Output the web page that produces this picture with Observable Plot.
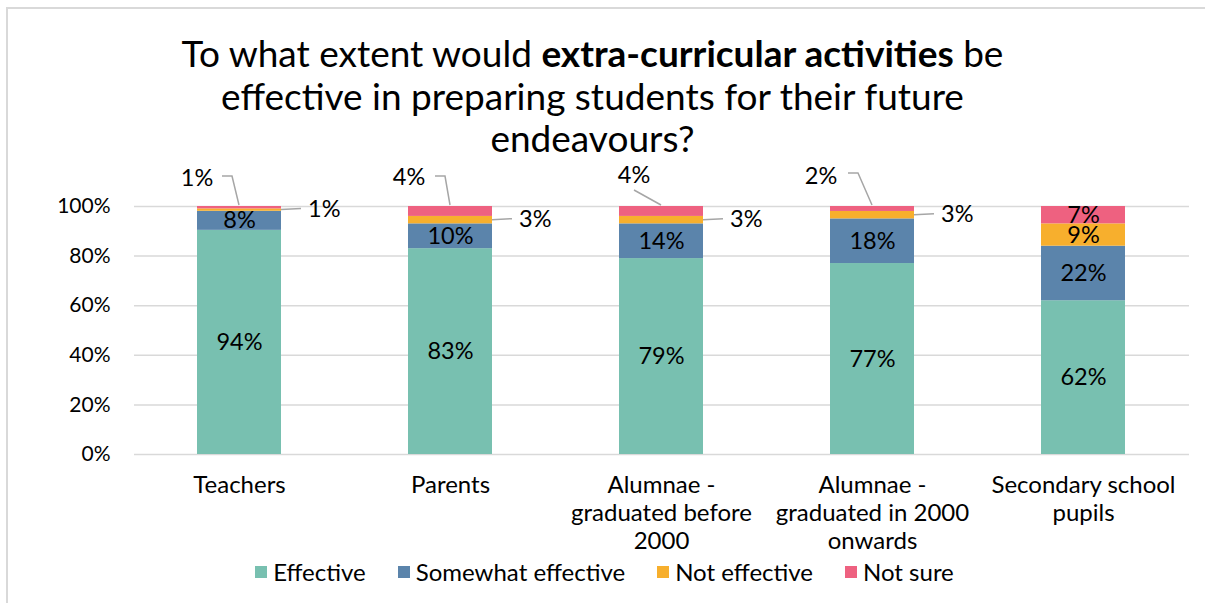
<!DOCTYPE html>
<html>
<head>
<meta charset="utf-8">
<script src="https://cdn.jsdelivr.net/npm/d3@7"></script>
<script src="https://cdn.jsdelivr.net/npm/@observablehq/plot@0.6"></script>
<style>
  html, body { margin: 0; padding: 0; background: #fff; }
  #wrap { position: relative; width: 1205px; height: 603px; overflow: hidden; font-family: Lato, "Open Sans", sans-serif; }
  #border { position: absolute; left: 6px; top: 7px; right: -10px; bottom: -10px; border-left: 2px solid #d9d9d9; border-top: 2px solid #d9d9d9; }
  #chart { position: absolute; left: 0; top: 0; }
  #title { position: absolute; left: 0; top: 32px; width: 1185px; text-align: center; font-size: 37px; line-height: 42.5px; color: #000; }
  #legend { position: absolute; left: 12px; top: 557px; width: 1185px; display: flex; justify-content: center; font-size: 24px; color: #000; }
  .item { display: flex; align-items: center; margin: 0 16px; }
  .sw { width: 12px; height: 12px; margin-right: 6px; }
</style>
</head>
<body>
<div id="wrap">
  <div id="border"></div>
  <div id="chart"></div>
  <div id="title">To what extent would <b>extra-curricular activities</b> be<br>effective in preparing students for their future<br>endeavours?</div>
  <div id="legend"></div>
</div>
<script>
const categories = ["Teachers", "Parents", "Alumnae - graduated before 2000", "Alumnae - graduated in 2000 onwards", "Secondary school pupils"];
const categoryLabels = ["Teachers", "Parents", "Alumnae -\ngraduated before\n2000", "Alumnae -\ngraduated in 2000\nonwards", "Secondary school\npupils"];
const series = ["Effective", "Somewhat effective", "Not effective", "Not sure"];
const effective = [94, 83, 79, 77, 62];
const somewhatEffective = [8, 10, 14, 18, 22];
const notEffective = [1, 3, 3, 3, 9];
const notSure = [1, 4, 4, 2, 7];
const yTicks = [0, 0.2, 0.4, 0.6, 0.8, 1];

const colors = ["#78c0b0", "#5b84ab", "#f7af2d", "#ee6180"];
const seriesValues = [effective, somewhatEffective, notEffective, notSure];

const rows = [];
categories.forEach((c, i) => {
  series.forEach((s, j) => {
    rows.push({category: c, series: s, value: seriesValues[j][i], si: j, ci: i});
  });
});

// callouts (layout only, offsets in pixels relative to anchor)
const leftCallout = [
  {label: [-42, -28], path: [[0, -1], [-7, -30], [-17, -30]]},
  {label: [-41, -29], path: [[0, -1], [-5, -30], [-15, -30]]},
  {label: [-27, -31], path: [[0, -1], [-27, -16]]},
  {label: [-51, -30], path: [[0, -1], [-14, -33], [-24, -33]]}
];

function callouts(index, scales, values, dimensions) {
  const g = d3.create("svg:g");
  const bw = scales.x.bandwidth ? scales.x.bandwidth() : 84;
  for (let i = 0; i < 4; i++) {
    const c = categories[i];
    const total = effective[i] + somewhatEffective[i] + notEffective[i] + notSure[i];
    const cx = scales.x(c) + bw / 2;
    const yTop = scales.y(1);
    const lc = leftCallout[i];
    g.append("path")
      .attr("d", d3.line()(lc.path.map(([dx, dy]) => [cx + dx, yTop + dy])))
      .attr("fill", "none").attr("stroke", "#a6a6a6").attr("stroke-width", 1.5);
    g.append("text")
      .attr("x", cx + lc.label[0]).attr("y", yTop + lc.label[1])
      .attr("text-anchor", "middle").attr("dy", "0.35em")
      .attr("font-size", 23.5).attr("fill", "#000")
      .text(notSure[i] + "%");
    const lo = (effective[i] + somewhatEffective[i]) / total;
    const hi = lo + notEffective[i] / total;
    const ym = scales.y((lo + hi) / 2);
    const xr = cx + bw / 2;
    g.append("path")
      .attr("d", d3.line()([[xr, ym], [xr + 20, ym - 1]]))
      .attr("fill", "none").attr("stroke", "#a6a6a6").attr("stroke-width", 1.5);
    g.append("text")
      .attr("x", xr + 27).attr("y", ym - 1)
      .attr("text-anchor", "start").attr("dy", "0.35em")
      .attr("font-size", 23.5).attr("fill", "#000")
      .text(notEffective[i] + "%");
  }
  return g.node();
}

const plot = Plot.plot({
  width: 1205,
  height: 560,
  marginTop: 206,
  marginBottom: 106,
  marginLeft: 134,
  marginRight: 16,
  style: {fontFamily: "Lato, 'Open Sans', sans-serif", background: "transparent", overflow: "visible"},
  x: {domain: categories, paddingInner: 0.6, paddingOuter: 0.3, label: null},
  y: {domain: [0, 1], label: null},
  color: {domain: series, range: colors},
  marks: [
    Plot.gridY(yTicks, {stroke: "#d9d9d9", strokeOpacity: 1, strokeWidth: 1.5}),
    Plot.axisY(yTicks, {tickSize: 0, tickPadding: 24, fontSize: 21, fill: "#000", tickFormat: d3.format(".0%"), label: null}),
    Plot.axisX({tickSize: 0, tickPadding: 19, fontSize: 24, lineHeight: 1.167, fill: "#000", label: null,
      tickFormat: d => categoryLabels[categories.indexOf(d)]}),
    Plot.barY(rows, Plot.stackY({x: "category", y: "value", fill: "series", order: series, offset: "normalize"})),
    Plot.text(rows, Plot.stackY({x: "category", y: "value", z: "series", order: series, offset: "normalize",
      text: (d) => (d.si < 2 || d.ci === 4) ? d.value + "%" : "", fontSize: 23.5, fill: "#000"})),
    callouts
  ]
});
document.getElementById("chart").appendChild(plot);

const legend = document.getElementById("legend");
series.forEach((s, j) => {
  const it = document.createElement("div");
  it.className = "item";
  it.innerHTML = `<span class="sw" style="background:${colors[j]}"></span><span>${s}</span>`;
  legend.appendChild(it);
});
</script>
</body>
</html>
